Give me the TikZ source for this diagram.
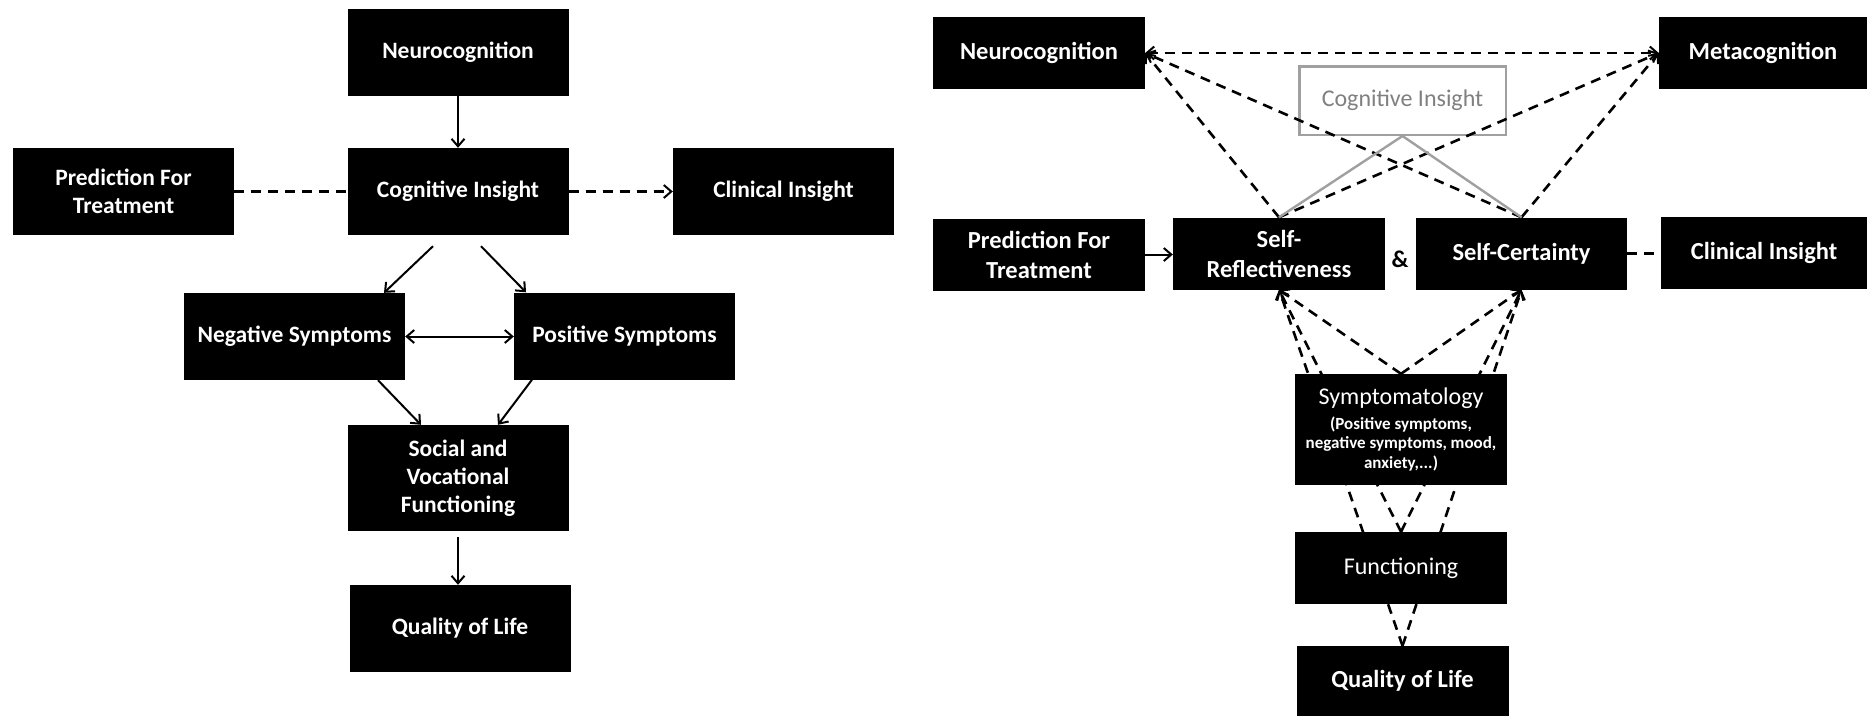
\documentclass[tikz,border=0pt]{standalone}
\usepackage{fontspec}
\setmainfont{Carlito}
\usetikzlibrary{arrows.meta,calc}
\pgfdeclarelayer{bg}
\pgfsetlayers{bg,main}
\definecolor{cigray}{HTML}{A0A0A0}
\definecolor{citext}{HTML}{808080}
\begin{document}
\begin{tikzpicture}[x=1pt,y=-1pt,
  box/.style={fill=black,text=white,font=\bfseries\fontsize{23.5}{28}\selectfont,align=center,inner sep=0pt,minimum width=221pt,minimum height=87pt},
  rbox/.style={box,font=\bfseries\fontsize{24.5}{30}\selectfont,minimum width=212pt,minimum height=72pt},
  cibox/.style={fill=white,draw=cigray,line width=2.5pt,text=citext,font=\fontsize{24}{28}\selectfont,inner sep=0pt,minimum width=206.5pt,minimum height=68.5pt},
  ln/.style={line width=2pt},
  dsh/.style={line width=2.6pt,dash pattern=on 10pt off 7pt},
  gln/.style={line width=2.4pt,draw=cigray},
  arw/.style={-{Straight Barb[length=7.5pt,width=13pt,line width=2pt]}},
  arwb/.style={{Straight Barb[length=7.5pt,width=13pt,line width=2pt]}-{Straight Barb[length=7.5pt,width=13pt,line width=2pt]}},
]
\begin{pgfonlayer}{bg}
\fill[white] (0,0) rectangle (1867,716);
\end{pgfonlayer}
\useasboundingbox (0,0) rectangle (1867,716);

% ---------- left diagram ----------
\node[box] (nL) at (458,52.5) {Neurocognition};
\node[box] (pL) at (123.5,191.5) {Prediction For\\Treatment};
\node[box] (cL) at (458,191.5) {Cognitive Insight};
\node[box] (clL) at (783.5,191.5) {Clinical Insight};
\node[box] (negL) at (294.5,336.5) {Negative Symptoms};
\node[box] (posL) at (624.5,336) {Positive Symptoms};
\node[box,minimum height=106pt] (socL) at (458,478) {Social and\\Vocational\\Functioning};
\node[box] (qolL) at (460,628.5) {Quality of Life};

\draw[ln,arw] (nL.south) -- (cL.north);
\draw[dsh] (pL.east) -- (cL.west);
\draw[dsh,arw] (cL.east) -- (clL.west);
\draw[ln,arw] ([shift={(-25,11)}]cL.south) -- ([shift={(89.5,0)}]negL.north);
\draw[ln,arw] ([shift={(23,11)}]cL.south) -- ([shift={(-98.5,0)}]posL.north);
\draw[ln,arwb] (negL.east) -- (negL.east -| posL.west);
\draw[ln,arw] ([shift={(83.5,0)}]negL.south) -- ([shift={(-37,0)}]socL.north);
\draw[ln,arw] ([shift={(-92.5,0)}]posL.south) -- ([shift={(40,0)}]socL.north);
\draw[ln,arw] ([shift={(0,6)}]socL.south) -- (socL.south |- qolL.north);

% ---------- right diagram ----------
\node[cibox] (ciR) at (1402.5,100.5) {Cognitive Insight};
\node[rbox] (nR) at (1039,53) {Neurocognition};
\node[rbox,minimum width=208pt] (mR) at (1763,53) {Metacognition};
\node[rbox] (pR) at (1039,254.5) {Prediction For\\Treatment};
\node[rbox] (srR) at (1279,253.5) {Self-\\Reflectiveness};
\node[rbox,minimum width=211pt] (scR) at (1521.5,253.5) {Self-Certainty};
\node[rbox,minimum width=206pt] (clR) at (1764,252.5) {Clinical Insight};
\node[font=\bfseries\fontsize{24}{28}\selectfont,inner sep=0pt] (amp) at (1400,259) {\&};
\node[rbox,minimum height=111pt,font=\bfseries\fontsize{17}{19.5}\selectfont] (syR) at (1401,429.5)
  {{\mdseries\fontsize{24}{26}\selectfont Symptomatology}\\[5pt](Positive symptoms,\\negative symptoms, mood,\\anxiety,...)};
\node[rbox,font=\fontsize{24}{28}\selectfont] (fuR) at (1401,568) {Functioning};
\node[rbox,minimum height=70pt] (qoR) at (1402.5,681) {Quality of Life};

\draw[dsh,arwb] (nR.east) -- (mR.west);
\draw[dsh,arw] (srR.north) -- (nR.east);
\draw[dsh,arw] (scR.north) -- (nR.east);
\draw[dsh,arw] (srR.north) -- (mR.west);
\draw[dsh,arw] (scR.north) -- (mR.west);
\draw[gln] (ciR.south) -- (srR.north);
\draw[gln] (ciR.south) -- (scR.north);
\draw[ln,arw] (pR.east) -- (pR.east -| srR.west);
\draw[dsh] (scR.east) -- (scR.east -| clR.west);
\begin{pgfonlayer}{bg}
\foreach \t in {syR,fuR,qoR}{
  \draw[dsh,arw] (\t.north) -- (srR.south);
  \draw[dsh,arw] (\t.north) -- (scR.south);
}
\end{pgfonlayer}
\end{tikzpicture}
\end{document}
